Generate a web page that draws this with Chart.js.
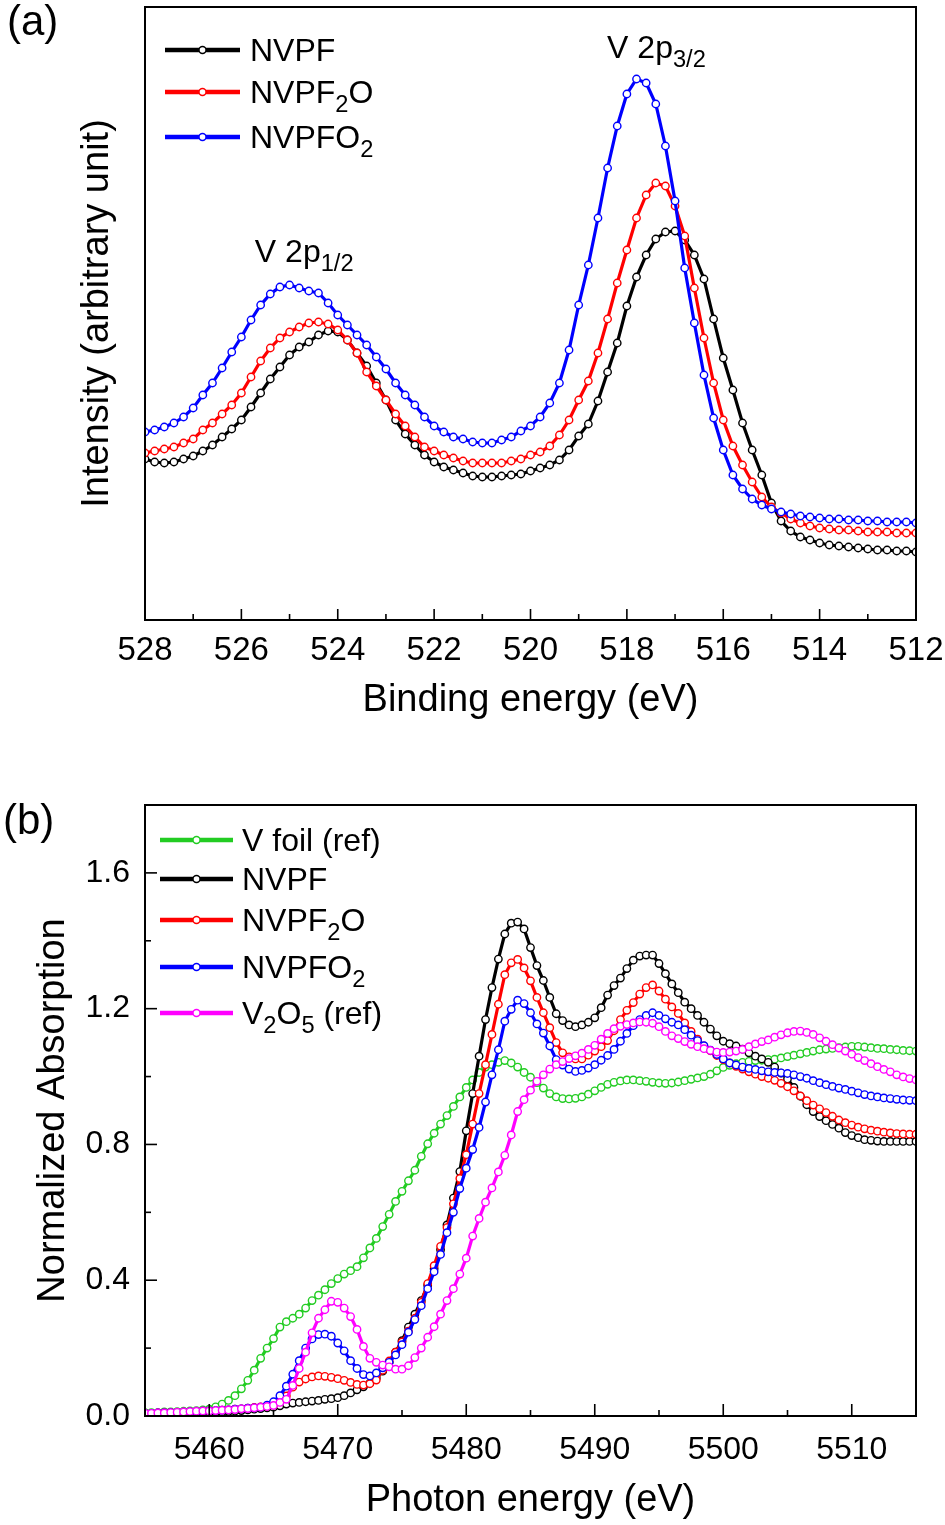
<!DOCTYPE html>
<html>
<head>
<meta charset="utf-8">
<script src="https://cdn.jsdelivr.net/npm/chart.js@4.4.0/dist/chart.umd.min.js"></script>
<style>
  body { margin: 0; background: #fff; }
  #page { position: relative; width: 945px; height: 1525px; }
  canvas { position: absolute; left: 0; }
</style>
</head>
<body>
<div id="page">
  <canvas id="xps" width="945" height="760" style="top:0"></canvas>
  <canvas id="xanes" width="945" height="765" style="top:760px"></canvas>
</div>
<script>
// ---- (a) V 2p XPS (arbitrary units) ----
var xpsEnergy = [
  528.0, 527.8, 527.6, 527.4, 527.2, 527.0, 526.8, 526.6, 526.4, 526.2,
  526.0, 525.8, 525.6, 525.4, 525.2, 525.0, 524.8, 524.6, 524.4, 524.2,
  524.0, 523.8, 523.6, 523.4, 523.2, 523.0, 522.8, 522.6, 522.4, 522.2,
  522.0, 521.8, 521.6, 521.4, 521.2, 521.0, 520.8, 520.6, 520.4, 520.2,
  520.0, 519.8, 519.6, 519.4, 519.2, 519.0, 518.8, 518.6, 518.4, 518.2,
  518.0, 517.8, 517.6, 517.4, 517.2, 517.0, 516.8, 516.6, 516.4, 516.2,
  516.0, 515.8, 515.6, 515.4, 515.2, 515.0, 514.8, 514.6, 514.4, 514.2,
  514.0, 513.8, 513.6, 513.4, 513.2, 513.0, 512.8, 512.6, 512.4, 512.2, 512.0
];
var xpsNVPF = [
  161, 158, 157, 158, 161, 164, 169, 175, 183, 191,
  200, 213, 227, 241, 253, 265, 273, 278, 285, 289,
  288, 280, 267, 254, 237, 220, 200, 186, 175, 165,
  158, 153, 150, 147, 144, 143, 143, 144, 145, 146,
  149, 152, 155, 160, 170, 184, 196, 219, 248, 277,
  314, 343, 365, 381, 388, 389, 380, 365, 341, 301,
  262, 230, 197, 170, 145, 117, 99, 89, 83, 80,
  77, 75, 74, 73, 72, 71, 70, 70, 69, 69, 68
];
var xpsNVPF2O = [
  167, 169, 171, 173, 177, 181, 190, 197, 206, 215,
  227, 243, 259, 272, 282, 288, 293, 297, 298, 296,
  290, 280, 267, 248, 234, 220, 206, 194, 183, 173,
  169, 165, 162, 159, 157, 157, 157, 157, 159, 161,
  165, 168, 174, 185, 200, 220, 239, 267, 301, 337,
  370, 402, 425, 437, 434, 414, 384, 332, 282, 237,
  200, 174, 155, 138, 123, 113, 107, 101, 97, 94,
  92, 91, 90, 90, 89, 88, 88, 88, 87, 87, 87
];
var xpsNVPFO2 = [
  188, 190, 193, 197, 203, 212, 225, 237, 252, 268,
  283, 300, 315, 326, 333, 335, 332, 329, 327, 317,
  305, 295, 285, 275, 263, 251, 237, 225, 215, 203,
  194, 188, 183, 181, 178, 177, 177, 180, 183, 189,
  194, 203, 217, 237, 270, 315, 355, 402, 452, 494,
  526, 541, 537, 516, 474, 419, 352, 297, 245, 202,
  170, 145, 131, 121, 115, 111, 108, 106, 104, 103,
  102, 101, 101, 100, 100, 99, 99, 98, 98, 98, 97
];

// ---- (b) V K-edge XANES ----
var xanesEnergy = [
  5455, 5455.5, 5456, 5456.5, 5457, 5457.5, 5458, 5458.5, 5459, 5459.5,
  5460, 5460.5, 5461, 5461.5, 5462, 5462.5, 5463, 5463.5, 5464, 5464.5,
  5465, 5465.5, 5466, 5466.5, 5467, 5467.5, 5468, 5468.5, 5469, 5469.5,
  5470, 5470.5, 5471, 5471.5, 5472, 5472.5, 5473, 5473.5, 5474, 5474.5,
  5475, 5475.5, 5476, 5476.5, 5477, 5477.5, 5478, 5478.5, 5479, 5479.5,
  5480, 5480.5, 5481, 5481.5, 5482, 5482.5, 5483, 5483.5, 5484, 5484.5,
  5485, 5485.5, 5486, 5486.5, 5487, 5487.5, 5488, 5488.5, 5489, 5489.5,
  5490, 5490.5, 5491, 5491.5, 5492, 5492.5, 5493, 5493.5, 5494, 5494.5,
  5495, 5495.5, 5496, 5496.5, 5497, 5497.5, 5498, 5498.5, 5499, 5499.5,
  5500, 5500.5, 5501, 5501.5, 5502, 5502.5, 5503, 5503.5, 5504, 5504.5,
  5505, 5505.5, 5506, 5506.5, 5507, 5507.5, 5508, 5508.5, 5509, 5509.5,
  5510, 5510.5, 5511, 5511.5, 5512, 5512.5, 5513, 5513.5, 5514, 5514.5,
  5515
];
var xanesTicks = [5460, 5470, 5480, 5490, 5500, 5510];
var xanesVFoil = [
  0.010, 0.010, 0.010, 0.012, 0.012, 0.013, 0.014, 0.015, 0.016, 0.018,
  0.020, 0.027, 0.035, 0.046, 0.060, 0.080, 0.105, 0.135, 0.170, 0.200,
  0.228, 0.262, 0.278, 0.288, 0.300, 0.318, 0.340, 0.356, 0.372, 0.390,
  0.405, 0.418, 0.428, 0.440, 0.466, 0.495, 0.523, 0.558, 0.594, 0.632,
  0.662, 0.693, 0.724, 0.765, 0.802, 0.833, 0.860, 0.885, 0.912, 0.940,
  0.968, 0.990, 1.012, 1.028, 1.035, 1.042, 1.047, 1.040, 1.028, 1.012,
  0.998, 0.982, 0.966, 0.950, 0.940, 0.935, 0.934, 0.936, 0.940, 0.948,
  0.958, 0.968, 0.977, 0.983, 0.987, 0.990, 0.990, 0.988, 0.986, 0.983,
  0.981, 0.980, 0.981, 0.984, 0.988, 0.992, 0.996, 1.000, 1.007, 1.017,
  1.027, 1.033, 1.038, 1.042, 1.045, 1.047, 1.048, 1.050, 1.051, 1.055,
  1.059, 1.063, 1.067, 1.071, 1.075, 1.079, 1.081, 1.083, 1.085, 1.087,
  1.089, 1.089, 1.087, 1.085, 1.083, 1.082, 1.080, 1.079, 1.077, 1.076,
  1.075
];
var xanesNVPF = [
  0.005, 0.005, 0.006, 0.006, 0.007, 0.007, 0.008, 0.008, 0.009, 0.009,
  0.010, 0.011, 0.012, 0.013, 0.014, 0.016, 0.018, 0.020, 0.022, 0.024,
  0.026, 0.030, 0.035, 0.038, 0.040, 0.042, 0.044, 0.046, 0.049, 0.051,
  0.054, 0.060, 0.068, 0.077, 0.086, 0.097, 0.112, 0.132, 0.158, 0.188,
  0.222, 0.262, 0.300, 0.340, 0.385, 0.434, 0.490, 0.563, 0.642, 0.720,
  0.840, 0.950, 1.060, 1.168, 1.262, 1.346, 1.420, 1.452, 1.455, 1.435,
  1.380, 1.327, 1.283, 1.233, 1.185, 1.165, 1.152, 1.147, 1.152, 1.160,
  1.173, 1.203, 1.240, 1.268, 1.290, 1.318, 1.343, 1.355, 1.358, 1.358,
  1.333, 1.303, 1.273, 1.247, 1.219, 1.200, 1.180, 1.160, 1.140, 1.120,
  1.104, 1.097, 1.090, 1.081, 1.070, 1.060, 1.052, 1.042, 1.028, 1.010,
  0.993, 0.968, 0.942, 0.917, 0.897, 0.882, 0.870, 0.859, 0.848, 0.835,
  0.826, 0.820, 0.814, 0.812, 0.810, 0.809, 0.809, 0.809, 0.809, 0.809,
  0.809
];
var xanesNVPF2O = [
  0.008, 0.008, 0.009, 0.009, 0.010, 0.010, 0.011, 0.012, 0.013, 0.014,
  0.015, 0.016, 0.017, 0.018, 0.020, 0.021, 0.023, 0.025, 0.027, 0.029,
  0.032, 0.042, 0.059, 0.085, 0.100, 0.109, 0.115, 0.118, 0.117, 0.114,
  0.110, 0.105, 0.099, 0.093, 0.091, 0.095, 0.106, 0.135, 0.162, 0.188,
  0.218, 0.250, 0.288, 0.335, 0.390, 0.443, 0.500, 0.555, 0.625, 0.700,
  0.770, 0.860, 0.950, 1.035, 1.124, 1.213, 1.300, 1.335, 1.345, 1.320,
  1.282, 1.233, 1.188, 1.144, 1.100, 1.070, 1.058, 1.052, 1.052, 1.063,
  1.075, 1.088, 1.106, 1.135, 1.168, 1.195, 1.218, 1.243, 1.262, 1.270,
  1.252, 1.228, 1.205, 1.186, 1.158, 1.133, 1.110, 1.090, 1.076, 1.062,
  1.050, 1.040, 1.030, 1.022, 1.014, 1.007, 1.000, 0.995, 0.989, 0.980,
  0.970, 0.958, 0.943, 0.929, 0.916, 0.905, 0.894, 0.883, 0.872, 0.864,
  0.857, 0.851, 0.846, 0.842, 0.839, 0.836, 0.834, 0.832, 0.831, 0.830,
  0.830
];
var xanesNVPFO2 = [
  0.008, 0.008, 0.009, 0.009, 0.010, 0.010, 0.011, 0.012, 0.013, 0.014,
  0.015, 0.016, 0.017, 0.018, 0.020, 0.021, 0.023, 0.024, 0.026, 0.032,
  0.042, 0.060, 0.088, 0.123, 0.163, 0.200, 0.227, 0.240, 0.241, 0.235,
  0.215, 0.192, 0.163, 0.140, 0.122, 0.118, 0.127, 0.142, 0.158, 0.180,
  0.210, 0.247, 0.284, 0.325, 0.375, 0.425, 0.476, 0.540, 0.600, 0.670,
  0.730, 0.785, 0.850, 0.925, 1.005, 1.079, 1.163, 1.198, 1.225, 1.215,
  1.188, 1.155, 1.128, 1.090, 1.050, 1.034, 1.022, 1.015, 1.018, 1.025,
  1.035, 1.048, 1.062, 1.080, 1.104, 1.127, 1.150, 1.168, 1.180, 1.188,
  1.180, 1.170, 1.160, 1.152, 1.138, 1.122, 1.106, 1.091, 1.078, 1.065,
  1.052, 1.040, 1.034, 1.028, 1.024, 1.021, 1.017, 1.014, 1.012, 1.011,
  1.009, 1.005, 1.000, 0.995, 0.988, 0.982, 0.976, 0.971, 0.966, 0.962,
  0.957, 0.952, 0.947, 0.943, 0.940, 0.937, 0.935, 0.933, 0.931, 0.930,
  0.929
];
var xanesV2O5 = [
  0.008, 0.008, 0.009, 0.009, 0.010, 0.011, 0.012, 0.013, 0.014, 0.015,
  0.015, 0.016, 0.017, 0.018, 0.019, 0.021, 0.022, 0.024, 0.026, 0.028,
  0.031, 0.040, 0.049, 0.090, 0.140, 0.188, 0.245, 0.288, 0.313, 0.338,
  0.335, 0.318, 0.293, 0.255, 0.205, 0.170, 0.158, 0.150, 0.145, 0.138,
  0.138, 0.148, 0.172, 0.200, 0.232, 0.263, 0.300, 0.340, 0.375, 0.418,
  0.465, 0.530, 0.582, 0.630, 0.672, 0.719, 0.768, 0.828, 0.897, 0.932,
  0.960, 0.986, 1.005, 1.022, 1.035, 1.044, 1.053, 1.061, 1.069, 1.080,
  1.092, 1.110, 1.127, 1.141, 1.148, 1.153, 1.158, 1.161, 1.160, 1.157,
  1.147, 1.133, 1.120, 1.112, 1.103, 1.095, 1.088, 1.082, 1.077, 1.072,
  1.071, 1.072, 1.075, 1.080, 1.088, 1.096, 1.103, 1.108, 1.116, 1.123,
  1.129, 1.133, 1.134, 1.130, 1.124, 1.114, 1.104, 1.094, 1.084, 1.075,
  1.066, 1.056, 1.047, 1.038, 1.029, 1.021, 1.014, 1.005, 0.999, 0.994,
  0.990
];

var FONT = '"Liberation Sans", Arial, sans-serif';
Chart.defaults.font.family = FONT;
Chart.defaults.color = "#000";

function points(xs, ys) {
  return xs.map(function (x, i) {
    return { x: x, y: ys[i] };
  });
}

function dataset(label, xs, ys, color, order) {
  return {
    label: label,
    data: points(xs, ys),
    borderColor: color,
    backgroundColor: color,
    borderWidth: 3.2,
    pointRadius: 3.7,
    pointBorderWidth: 1.4,
    pointBackgroundColor: "#fff",
    pointBorderColor: color,
    tension: 0,
    order: order
  };
}

// text with "_{..}" subscripts
function drawRich(ctx, text, x, y, size) {
  var parts = text.split(/(_\{[^}]*\})/);
  ctx.textAlign = "left";
  ctx.textBaseline = "alphabetic";
  ctx.fillStyle = "#000";
  for (var i = 0; i < parts.length; i++) {
    var p = parts[i];
    if (!p) continue;
    var sub = p.indexOf("_{") === 0;
    var t = sub ? p.slice(2, -1) : p;
    var s = sub ? size * 0.74 : size;
    ctx.font = s + "px " + FONT;
    ctx.fillText(t, x, sub ? y + size * 0.27 : y);
    x += ctx.measureText(t).width;
  }
}

function tickMarks(t, min, max, draw) {
  var n = Math.round((max - min) / t.minor);
  for (var i = 0; i <= n; i++) {
    var v = min + i * t.minor;
    var major = Math.abs(v / t.major - Math.round(v / t.major)) < 1e-6;
    draw(v, major ? t.majorLen : t.minorLen);
  }
}

// box round the plot and inward ticks
var framePlugin = {
  id: "frame",
  afterDatasetsDraw: function (chart, args, o) {
    var ctx = chart.ctx;
    var a = chart.chartArea;
    var sx = chart.scales.x;
    var sy = chart.scales.y;
    ctx.save();
    ctx.strokeStyle = "#000";
    ctx.lineWidth = 1.6;
    if (o.x) {
      tickMarks(o.x, sx.min, sx.max, function (v, len) {
        var px = sx.getPixelForValue(v);
        ctx.beginPath();
        ctx.moveTo(px, a.bottom);
        ctx.lineTo(px, a.bottom - len);
        ctx.stroke();
      });
    }
    if (o.y) {
      tickMarks(o.y, sy.min, sy.max, function (v, len) {
        var py = sy.getPixelForValue(v);
        ctx.beginPath();
        ctx.moveTo(a.left, py);
        ctx.lineTo(a.left + len, py);
        ctx.stroke();
      });
    }
    ctx.lineWidth = 2;
    ctx.strokeRect(a.left, a.top, a.right - a.left, a.bottom - a.top);
    ctx.restore();
  }
};

// panel letter, legend and peak labels
var notesPlugin = {
  id: "notes",
  afterDraw: function (chart, args, o) {
    var ctx = chart.ctx;
    ctx.save();
    ctx.font = "42px " + FONT;
    ctx.fillStyle = "#000";
    ctx.textBaseline = "alphabetic";
    ctx.fillText(o.panel, o.panelX, o.panelY);

    for (var i = 0; i < o.items.length; i++) {
      var it = o.items[i];
      var y = o.legendY[i];
      var x0 = o.legendX, x1 = o.legendX + o.lineLen;
      ctx.strokeStyle = it.color;
      ctx.lineWidth = 4.5;
      ctx.beginPath();
      ctx.moveTo(x0, y);
      ctx.lineTo(x1, y);
      ctx.stroke();
      ctx.beginPath();
      ctx.arc((x0 + x1) / 2, y, 3.5, 0, Math.PI * 2);
      ctx.fillStyle = "#fff";
      ctx.fill();
      ctx.lineWidth = 1.4;
      ctx.stroke();
      drawRich(ctx, it.text, x1 + o.textGap, y + 11, 32);
    }

    var sx = chart.scales.x, sy = chart.scales.y;
    (o.texts || []).forEach(function (t) {
      drawRich(ctx, t.text, sx.getPixelForValue(t.x), sy.getPixelForValue(t.y), 32);
    });
    ctx.restore();
  }
};

var noGrid = { display: false, drawTicks: false };

function fixX(h) {
  return function (s) {
    s.height = h;
    s.paddingLeft = 0;
    s.paddingRight = 0;
  };
}

new Chart(document.getElementById("xps"), {
  type: "line",
  data: {
    datasets: [
      dataset("NVPF", xpsEnergy, xpsNVPF, "#000000", 3),
      dataset("NVPF2O", xpsEnergy, xpsNVPF2O, "#ff0000", 2),
      dataset("NVPFO2", xpsEnergy, xpsNVPFO2, "#0000ff", 1)
    ]
  },
  plugins: [framePlugin, notesPlugin],
  options: {
    responsive: false,
    animation: false,
    events: [],
    layout: { padding: { top: 7, right: 29, left: 0, bottom: 0 } },
    plugins: {
      legend: { display: false },
      tooltip: { enabled: false },
      frame: { x: { major: 2, minor: 1, majorLen: 11, minorLen: 6 } },
      notes: {
        panel: "(a)", panelX: 7, panelY: 35,
        legendX: 165, lineLen: 75, textGap: 10, legendY: [50, 92, 137],
        items: [
          { text: "NVPF", color: "#000000" },
          { text: "NVPF_{2}O", color: "#ff0000" },
          { text: "NVPFO_{2}", color: "#0000ff" }
        ],
        texts: [
          { text: "V 2p_{1/2}", x: 525.72, y: 358 },
          { text: "V 2p_{3/2}", x: 518.41, y: 562 }
        ]
      }
    },
    scales: {
      x: {
        type: "linear", min: 512, max: 528, reverse: true,
        grid: noGrid, border: { display: false },
        ticks: { stepSize: 2, font: { size: 33 }, padding: 11, maxRotation: 0, autoSkip: false },
        title: { display: true, text: "Binding energy (eV)", font: { size: 38 }, padding: { top: 0, bottom: 37 } },
        afterFit: fixX(140)
      },
      y: {
        type: "linear", min: 0, max: 613,
        grid: noGrid, border: { display: false },
        ticks: { display: false },
        title: { display: true, text: "Intensity (arbitrary unit)", font: { size: 38 }, padding: { top: 75, bottom: 0 } },
        afterFit: function (s) { s.width = 145; }
      }
    }
  }
});

new Chart(document.getElementById("xanes"), {
  type: "line",
  data: {
    datasets: [
      dataset("V foil (ref)", xanesEnergy, xanesVFoil, "#22cc22", 5),
      dataset("NVPF", xanesEnergy, xanesNVPF, "#000000", 4),
      dataset("NVPF2O", xanesEnergy, xanesNVPF2O, "#ff0000", 3),
      dataset("NVPFO2", xanesEnergy, xanesNVPFO2, "#0000ff", 2),
      dataset("V2O5 (ref)", xanesEnergy, xanesV2O5, "#ff00ff", 1)
    ]
  },
  plugins: [framePlugin, notesPlugin],
  options: {
    responsive: false,
    animation: false,
    events: [],
    layout: { padding: { top: 45, right: 29, left: 0, bottom: 0 } },
    plugins: {
      legend: { display: false },
      tooltip: { enabled: false },
      frame: {
        x: { major: 10, minor: 5, majorLen: 12, minorLen: 6 },
        y: { major: 0.4, minor: 0.2, majorLen: 12, minorLen: 6 }
      },
      notes: {
        panel: "(b)", panelX: 3, panelY: 74,
        legendX: 160, lineLen: 73, textGap: 9, legendY: [80, 119, 160, 207, 253],
        items: [
          { text: "V foil (ref)", color: "#22cc22" },
          { text: "NVPF", color: "#000000" },
          { text: "NVPF_{2}O", color: "#ff0000" },
          { text: "NVPFO_{2}", color: "#0000ff" },
          { text: "V_{2}O_{5} (ref)", color: "#ff00ff" }
        ]
      }
    },
    scales: {
      x: {
        type: "linear", min: 5455, max: 5515,
        grid: noGrid, border: { display: false },
        afterBuildTicks: function (s) {
          s.ticks = xanesTicks.map(function (v) { return { value: v }; });
        },
        ticks: {
          font: { size: 32 }, padding: 15, maxRotation: 0, autoSkip: false,
          callback: function (v) { return String(v); }
        },
        title: { display: true, text: "Photon energy (eV)", font: { size: 38 }, padding: { top: 0, bottom: 2 } },
        afterFit: fixX(109)
      },
      y: {
        type: "linear", min: 0, max: 1.8,
        grid: noGrid, border: { display: false },
        ticks: {
          stepSize: 0.4, includeBounds: false, font: { size: 32 }, padding: 15,
          callback: function (v) { return v.toFixed(1); }
        },
        title: { display: true, text: "Normalized Absorption", font: { size: 38 }, padding: { top: 31, bottom: 0 } },
        afterFit: function (s) { s.width = 145; }
      }
    }
  }
});
</script>
</body>
</html>
